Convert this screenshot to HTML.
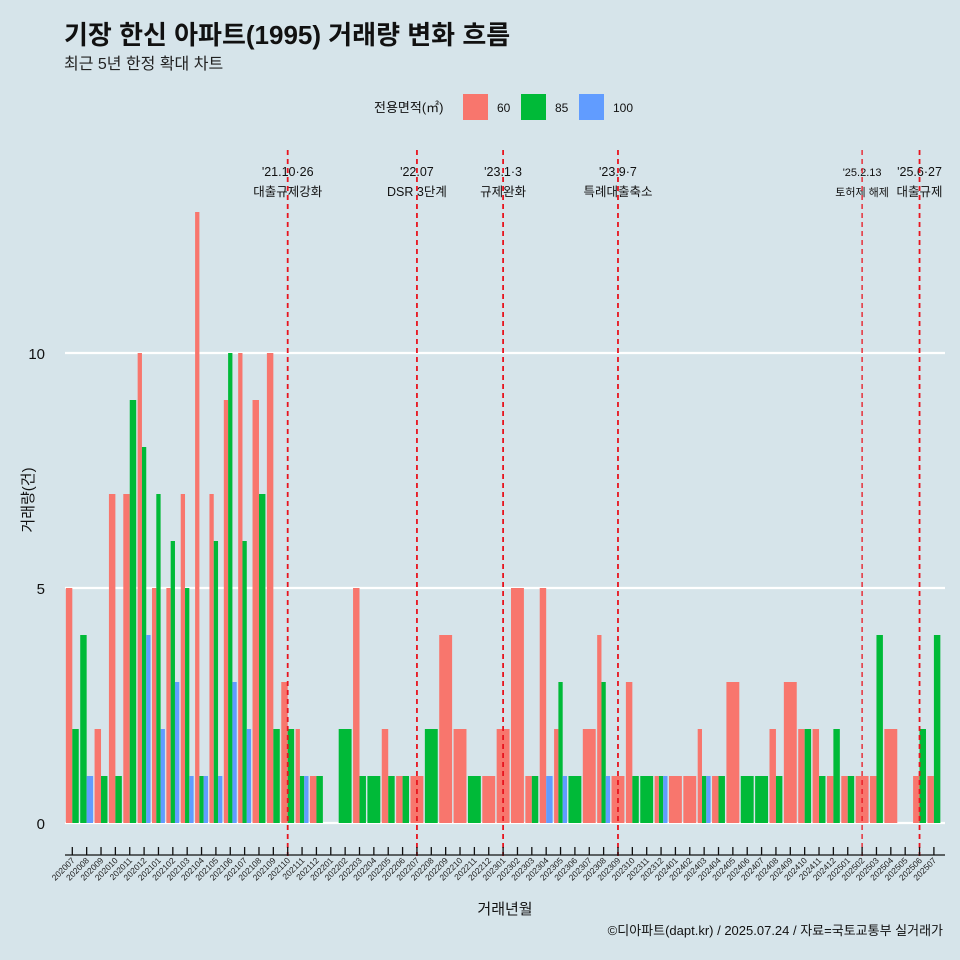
<!DOCTYPE html>
<html><head><meta charset="utf-8"><style>
body{margin:0;background:#d6e4ea;}
svg{display:block;font-family:"Liberation Sans","Noto Sans CJK KR",sans-serif;}
</style></head><body>
<svg id="c" width="960" height="960" viewBox="0 0 960 960">
<rect width="960" height="960" fill="#d6e4ea"/>
<text x="64" y="44" font-size="26" font-weight="bold" fill="#111">기장 한신 아파트(1995) 거래량 변화 흐름</text>
<text x="64" y="69" font-size="16" fill="#222">최근 5년 한정 확대 차트</text>
<g>
<text x="374" y="112" font-size="13" fill="#111">전용면적(㎡)</text>
<rect x="463" y="94" width="25" height="26" fill="#f8766d"/>
<text x="497" y="112" font-size="12" fill="#111">60</text>
<rect x="521" y="94" width="25" height="26" fill="#00ba38"/>
<text x="555" y="112" font-size="12" fill="#111">85</text>
<rect x="579" y="94" width="25" height="26" fill="#619cff"/>
<text x="613" y="112" font-size="12" fill="#111">100</text>
</g>
<g id="grid"></g><g id="bars"></g><g id="events"></g><g id="axes"></g>
<text x="505" y="914" font-size="15" text-anchor="middle" fill="#111">거래년월</text>
<text transform="translate(33,500) rotate(-90)" font-size="15" text-anchor="middle" fill="#111">거래량(건)</text>
<text x="943" y="935" font-size="13" text-anchor="end" fill="#111">©디아파트(dapt.kr) / 2025.07.24 / 자료=국토교통부 실거래가</text>
</svg>
<script>
const months=[];for(let y=2020;y<=2025;y++)for(let m=1;m<=12;m++){const k=y*100+m;if(k>=202007&&k<=202507)months.push(String(k));}
const v60=[5,0,2,7,7,10,5,5,7,13,7,9,10,9,10,3,2,1,0,0,5,0,2,1,1,0,4,2,0,1,2,5,1,5,2,0,2,4,1,3,0,1,1,1,2,1,3,0,0,2,3,2,2,1,1,1,1,2,0,1,1];
const v85=[2,4,1,1,9,8,7,6,5,1,6,10,6,7,2,2,1,1,0,2,1,1,1,1,0,2,0,0,1,0,0,0,1,0,3,1,0,3,0,1,1,1,0,0,1,1,0,1,1,1,0,2,1,2,1,0,4,0,0,2,4];
const v100=[0,1,0,0,0,4,2,3,1,1,1,3,2,0,0,0,1,0,0,0,0,0,0,0,0,0,0,0,0,0,0,0,0,1,1,0,0,1,0,0,0,1,0,0,1,0,0,0,0,0,0,0,0,0,0,0,0,0,0,0,0];
const yTicks=[0,5,10];
const evMonths=["202110","202207","202301","202309","202502","202506"];
const evL1=["'21.10·26","'22.07","'23.1·3","'23.9·7","'25.2.13","'25.6·27"];
const evL2=["대출규제강화","DSR 3단계","규제완화","특례대출축소","토허제 해제","대출규제"];
const NS="http://www.w3.org/2000/svg";
const X0=72.3,STEP=14.36,Y0=823,PPU=47;
const xs=i=>X0+STEP*i, ys=v=>Y0-v*PPU;
function mk(t,a,p){const e=document.createElementNS(NS,t);for(const k in a)e.setAttribute(k,a[k]);p.appendChild(e);return e;}
const G=document.getElementById('grid'),B=document.getElementById('bars'),E=document.getElementById('events'),A=document.getElementById('axes');
yTicks.forEach(t=>{const l=mk('line',{x1:65,x2:945,y1:ys(t),y2:ys(t),stroke:'#fff','stroke-width':2.2},G);


const tx=mk('text',{x:45,y:ys(t)+6,'font-size':15,'text-anchor':'end',fill:'#111'},A);tx.textContent=t;

});
const series=[[v60,'#f8766d','60'],[v85,'#00ba38','85'],[v100,'#619cff','100']];
months.forEach((m,i)=>{const pres=series.filter(s=>s[0][i]>0);const W=12.9,w=W/Math.max(pres.length,1);
pres.forEach((s,j)=>{const v=s[0][i];const r=mk('rect',{x:xs(i)-W/2+j*w,y:ys(v),width:w,height:v*PPU,fill:s[1]},B);

});
const tk=mk('line',{x1:xs(i),x2:xs(i),y1:847,y2:855,stroke:'#111','stroke-width':1.3},A);


const tl=mk('text',{transform:`translate(${xs(i)+3},861) rotate(-45)`,'font-size':8.5,'text-anchor':'end',fill:'#222'},A);tl.textContent=m;

});
const ax=mk('line',{x1:65,x2:945,y1:855,y2:855,stroke:'#111','stroke-width':1.3},A);


evMonths.forEach((m,k)=>{const x=xs(months.indexOf(m));const small=m.startsWith('2025');
const t1=mk('text',{x:x,y:176,'font-size':small&&k==4?11:12.5,'text-anchor':'middle',fill:'#111'},E);t1.textContent=evL1[k];


const t2=mk('text',{x:x,y:196,'font-size':small&&k==4?11:12.5,'text-anchor':'middle',fill:'#111'},E);t2.textContent=evL2[k];


const l=mk('line',{x1:x,x2:x,y1:150,y2:856,stroke:'#e8141e','stroke-width':k==4?1.3:1.8,'stroke-dasharray':'5,4'},E);

});
</script>
</body></html>
